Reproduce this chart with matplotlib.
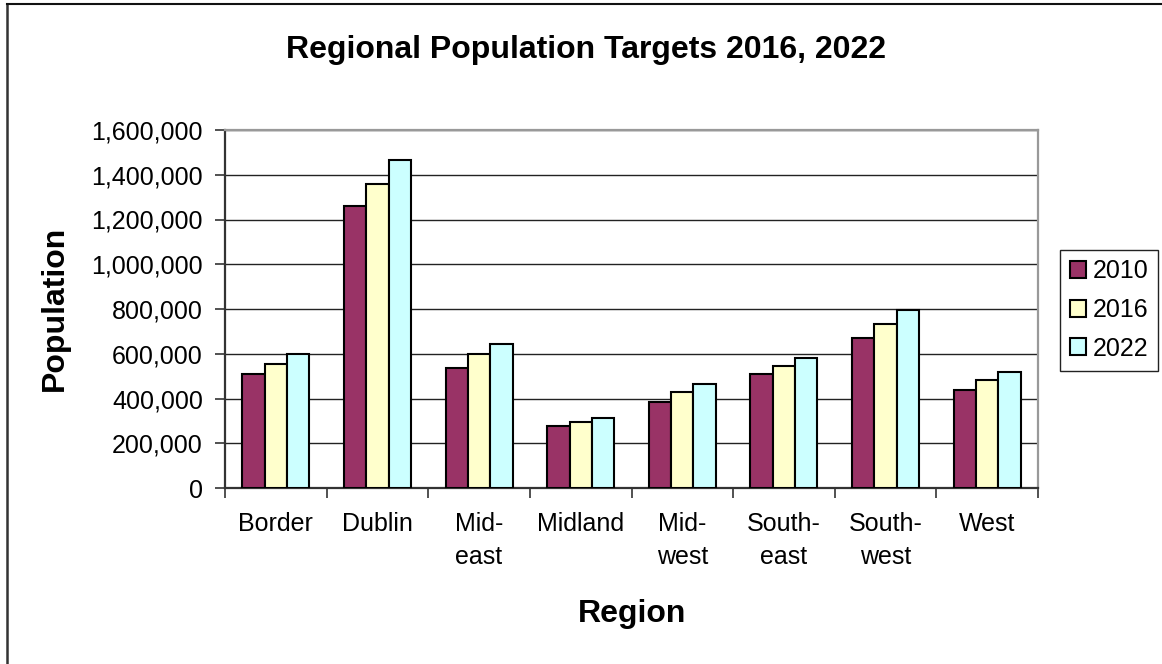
import matplotlib
matplotlib.use("Agg")
import matplotlib.pyplot as plt
from matplotlib.lines import Line2D
from matplotlib.ticker import FuncFormatter
import numpy as np

# Regional population figures and targets
regions = ["Border", "Dublin", "Mid-\neast", "Midland", "Mid-\nwest",
           "South-\neast", "South-\nwest", "West"]
years = ["2010", "2016", "2022"]
pop_2010 = [509000, 1259000, 536000, 279000, 384000, 509000, 669000, 438000]
pop_2016 = [553000, 1359000, 598000, 295000, 429000, 545000, 733000, 483000]
pop_2022 = [598000, 1465000, 644000, 313000, 465000, 581000, 796000, 518000]
y_ticks = [0, 200000, 400000, 600000, 800000, 1000000, 1200000, 1400000, 1600000]

colors = ["#993366", "#FFFFCC", "#CCFFFF"]
series = [pop_2010, pop_2016, pop_2022]

plt.rcParams["font.family"] = ["Liberation Sans", "DejaVu Sans"]

W, H = 1162, 664
fig = plt.figure(figsize=(W / 100, H / 100), dpi=100)
fig.patch.set_facecolor("white")

# chart-area frame (left and top edges)
fig.add_artist(Line2D([6.5 / W, 6.5 / W], [0, 1 - 4 / H], color="#333333",
                      lw=1.8, transform=fig.transFigure))
fig.add_artist(Line2D([6.5 / W, 1], [1 - 4 / H, 1 - 4 / H], color="#111111",
                      lw=1.5, transform=fig.transFigure))

left, right, top, bottom = 225, 1038, 130, 488
ax = fig.add_axes([left / W, 1 - bottom / H, (right - left) / W, (bottom - top) / H])

x = np.arange(len(regions))
bw = 0.22
for i, (vals, col, yr) in enumerate(zip(series, colors, years)):
    ax.bar(x + (i - 1) * bw, vals, width=bw, color=col, edgecolor="black",
           linewidth=1.5, label=yr, zorder=3)

ax.set_xlim(-0.5, len(regions) - 0.5)
ax.set_ylim(0, 1600000)

ax.set_yticks(y_ticks)
ax.yaxis.set_major_formatter(FuncFormatter(lambda v, p: f"{int(v):,}"))
ax.yaxis.grid(True, color="#222222", linewidth=1.0, zorder=0)
ax.set_axisbelow(True)

# category boundaries get ticks, category centres get labels
ax.set_xticks(np.arange(-0.5, len(regions) + 0.5, 1.0))
ax.set_xticklabels([])
ax.set_xticks(x, minor=True)
ax.set_xticklabels(regions, minor=True, fontsize=18, linespacing=1.5)
ax.tick_params(axis="x", which="major", length=7, width=1.2, color="#333333",
               direction="out")
ax.tick_params(axis="x", which="minor", length=0, pad=17)
ax.tick_params(axis="y", which="major", length=7, width=1.2, color="#333333",
               labelsize=18, pad=9)

for s in ["left", "bottom"]:
    ax.spines[s].set_color("#333333")
    ax.spines[s].set_linewidth(1.6)
for s in ["top", "right"]:
    ax.spines[s].set_color("#999999")
    ax.spines[s].set_linewidth(1.6)

fig.text(586 / W, 1 - 58 / H, "Regional Population Targets 2016, 2022",
         ha="center", va="baseline", fontsize=23, fontweight="bold")
fig.text(55 / W, 1 - 308 / H, "Population", ha="center", va="center",
         rotation=90, fontsize=23, fontweight="bold")
fig.text(632 / W, 1 - 622 / H, "Region", ha="center", va="baseline",
         fontsize=23, fontweight="bold")

leg = ax.legend(loc="center left", bbox_to_anchor=(1060 / W, 1 - 310 / H),
                bbox_transform=fig.transFigure, fontsize=18, frameon=True,
                fancybox=False, edgecolor="#222222", framealpha=1,
                handlelength=0.65, handleheight=0.65, handletextpad=0.25,
                labelspacing=0.58, borderpad=0.4, borderaxespad=0)
leg.get_frame().set_linewidth(1.0)

fig.savefig("out.png", dpi=100, facecolor="white")
